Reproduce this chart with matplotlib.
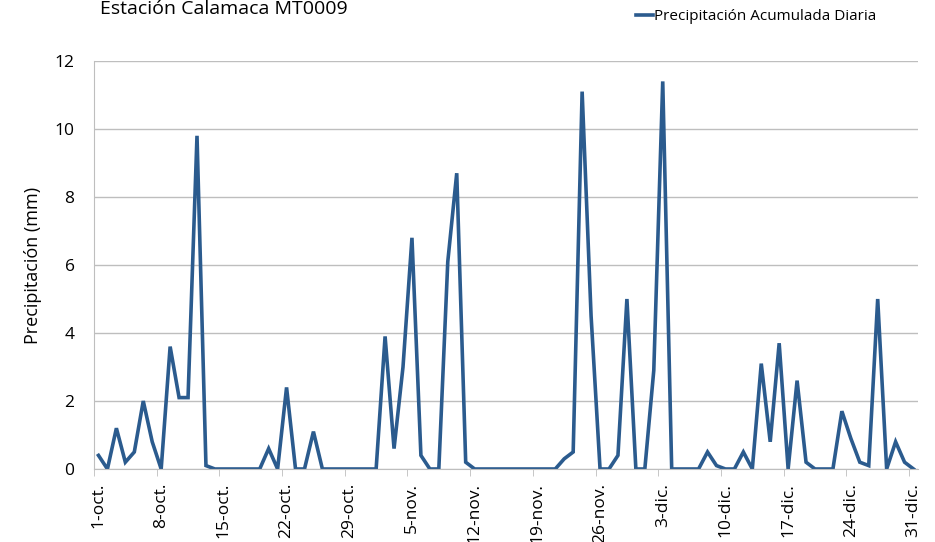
import matplotlib
matplotlib.use("Agg")
import matplotlib.pyplot as plt
import numpy as np

# daily precipitation, 1-oct .. 31-dic (92 days)
precip = [
    0.4, 0, 1.2, 0.2, 0.5, 2.0, 0.8, 0, 3.6, 2.1, 2.1, 9.8, 0.1,
    0, 0, 0, 0, 0, 0,
    0.6, 0, 2.4, 0, 0, 1.1,
    0, 0, 0, 0, 0, 0, 0,
    3.9, 0.6, 3.0, 6.8, 0.4, 0, 0, 6.1, 8.7, 0.2,
    0, 0, 0, 0, 0, 0, 0, 0, 0, 0,
    0.3, 0.5, 11.1, 4.5, 0, 0, 0.4, 5.0, 0, 0, 2.9, 11.4,
    0, 0, 0, 0,
    0.5, 0.1, 0, 0, 0.5, 0, 3.1, 0.8, 3.7, 0, 2.6, 0.2, 0, 0, 0,
    1.7, 0.9, 0.2, 0.1, 5.0, 0, 0.8, 0.2, 0,
]
tick_labels = ["1-oct.", "8-oct.", "15-oct.", "22-oct.", "29-oct.", "5-nov.", "12-nov.",
               "19-nov.", "26-nov.", "3-dic.", "10-dic.", "17-dic.", "24-dic.", "31-dic."]
y_ticks = [0, 2, 4, 6, 8, 10, 12]

plt.rcParams['font.family'] = ['Open Sans', 'DejaVu Sans']

fig = plt.figure(figsize=(9.35, 5.42), dpi=100)
ax = fig.add_axes([94 / 935, 73 / 542, 824 / 935, 408 / 542])

x = np.arange(len(precip))
ax.plot(x, precip, color='#2b5b8e', lw=2.6, solid_joinstyle='miter',
        label='Precipitación Acumulada Diaria')

ax.set_xlim(-0.5, len(precip) - 0.5)
ax.set_ylim(0, 12)
ax.set_yticks(y_ticks)
ax.yaxis.grid(True, color='#bebebe', lw=1)
ax.set_axisbelow(True)
ax.tick_params(axis='y', length=0, labelsize=12.5, pad=14)

label_pos = np.arange(0, len(precip), 7)
ax.set_xticks(label_pos)
ax.set_xticklabels(tick_labels, rotation=90, fontsize=12.5)
ax.tick_params(axis='x', which='major', length=0, pad=10)
ax.set_xticks(label_pos - 0.5, minor=True)
ax.tick_params(axis='x', which='minor', length=5, color='#bebebe')

for s in ['top', 'right']:
    ax.spines[s].set_visible(False)
for s in ['left', 'bottom']:
    ax.spines[s].set_color('#bebebe')

ax.set_ylabel('Precipitación (mm)', fontsize=13, labelpad=9)

fig.text(100 / 935, 1 - 14 / 542, 'Estación Calamaca MT0009', fontsize=14,
         ha='left', va='baseline')
fig.legend(loc='upper left', bbox_to_anchor=(630 / 935, 1 - 3 / 542), frameon=False,
           fontsize=11, handlelength=1.1, handletextpad=0.05, borderaxespad=0)

fig.savefig('out.png', dpi=100)
